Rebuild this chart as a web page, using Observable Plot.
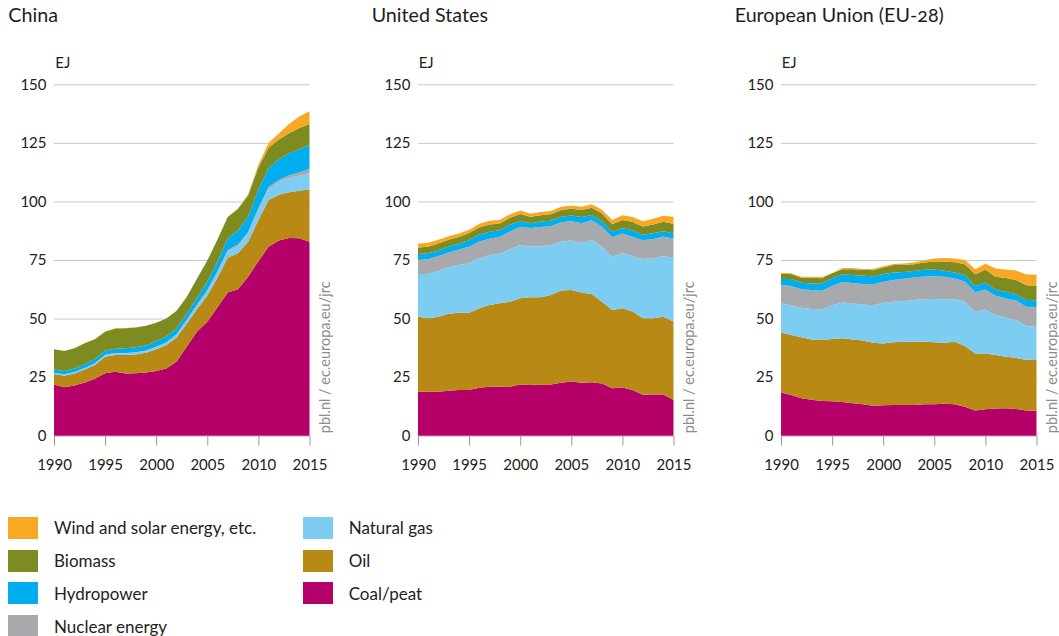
<!DOCTYPE html>
<html><head><meta charset="utf-8">
<script src="https://cdn.jsdelivr.net/npm/d3@7"></script>
<script src="https://cdn.jsdelivr.net/npm/@observablehq/plot@0.6"></script>
<style>
body{margin:0;background:#fff;font-family:Lato,"Open Sans",sans-serif;font-variant-numeric:oldstyle-nums;}
#root{position:relative;width:1059px;height:636px;overflow:hidden;background:#fff;}
.title{position:absolute;top:3px;font-size:19.7px;color:#1e1e1e;white-space:nowrap;}
.unit{position:absolute;top:53px;font-size:15px;color:#1e1e1e;}
.panel{position:absolute;}
.lg{position:absolute;height:22px;display:flex;align-items:center;}
.sw{width:30px;height:22px;margin-right:16px;flex:none;}
.lt{font-size:17px;color:#222;white-space:nowrap;}
</style></head><body><div id="root"></div>
<script>
const years = [1990,1991,1992,1993,1994,1995,1996,1997,1998,1999,2000,2001,2002,2003,2004,2005,2006,2007,2008,2009,2010,2011,2012,2013,2014,2015];
const sources = ["Coal/peat","Oil","Natural gas","Nuclear energy","Hydropower","Biomass","Wind and solar energy, etc."];
const colors = ["#b5006a","#b98915","#7dcdf2","#a8a9ac","#00adee","#7e8b20","#f8a823"];
const xTicks = [1990,1995,2000,2005,2010,2015];
const yTicks = [0,25,50,75,100,125,150];
const sourceNote = "pbl.nl / ec.europa.eu/jrc";

// China (EJ)
const chinaCoal = [21.8,20.7,21.4,22.7,24.3,26.7,27.3,26.5,26.7,27.0,27.6,28.7,31.7,38.1,44.5,48.6,54.8,61.1,62.5,67.9,74.5,80.7,83.3,84.4,84.3,82.8];
const chinaOil = [4.5,4.9,5.2,5.6,5.9,7.0,7.1,7.9,8.0,8.4,9.3,10.0,10.2,9.8,9.6,11.2,12.7,14.9,15.4,14.9,17.6,19.9,19.5,19.5,20.3,22.4];
const chinaGas = [0.6,0.6,0.6,0.6,0.6,0.7,0.7,0.75,0.8,0.8,0.9,1.0,1.1,1.2,1.4,1.8,2.1,2.6,3.0,3.5,4.2,4.8,5.4,6.1,6.4,6.9];
const chinaNuclear = [0,0,0,0,0.1,0.15,0.15,0.15,0.15,0.15,0.17,0.2,0.25,0.45,0.5,0.55,0.6,0.7,0.7,0.8,0.8,0.9,1.0,1.2,1.4,1.8];
const chinaHydro = [1.4,1.4,1.5,1.6,1.8,1.8,1.9,2.0,2.1,2.1,2.3,2.5,2.6,2.6,3.0,3.6,4.2,5.0,6.0,6.5,8.0,8.0,8.8,9.4,9.9,10.2];
const chinaBiomass = [8.6,8.6,8.6,9.0,8.5,8.05,8.65,8.6,8.45,8.45,7.9,7.6,7.5,7.2,8.1,9.0,9.3,9.0,9.2,9.0,9.4,8.6,8.4,8.5,9.0,9.0];
const chinaWind = [0.05,0.05,0.05,0.05,0.05,0.05,0.05,0.05,0.05,0.05,0.05,0.05,0.05,0.05,0.05,0.1,0.1,0.2,0.3,0.5,1.2,2.0,2.6,4.0,5.0,5.4];

// United States (EJ)
const usCoal = [18.8,18.8,18.8,19.2,19.5,19.5,20.5,20.9,20.9,20.9,21.9,21.6,21.8,21.8,22.6,23.1,22.6,22.8,22.3,20.2,20.6,19.5,17.5,17.6,17.6,15.2];
const usOil = [32.0,31.3,32.0,32.8,33.0,33.0,33.9,34.9,35.6,36.3,36.8,37.5,37.3,38.3,39.4,39.1,38.5,37.7,34.9,33.5,33.8,33.5,32.6,32.5,33.2,33.5];
const usGas = [18.2,18.9,19.5,19.9,20.4,21.1,21.3,21.3,21.3,22.4,22.7,21.6,21.9,21.3,20.8,21.1,21.3,23.1,23.6,22.7,23.5,23.7,25.3,25.6,25.9,27.0];
const usNuclear = [6.0,6.3,6.4,6.3,6.6,7.1,7.2,7.0,7.1,7.6,7.8,8.0,8.1,8.0,8.3,8.3,8.3,8.4,8.4,8.3,8.4,8.2,8.0,8.3,8.3,8.4];
const usHydro = [2.6,2.6,2.4,2.6,2.4,2.8,3.0,3.0,2.8,2.8,2.4,2.0,2.3,2.4,2.4,2.4,2.6,2.2,2.3,2.4,2.3,2.8,2.4,2.4,2.3,2.2];
const usBiomass = [2.7,2.8,2.9,2.8,2.9,3.0,3.1,3.1,2.9,3.0,3.0,2.8,2.7,2.7,2.8,2.9,3.0,3.1,3.3,3.2,3.5,3.5,3.5,3.8,4.0,4.2];
const usWind = [1.6,1.7,1.6,1.5,1.5,1.4,1.5,1.5,1.5,1.5,1.5,1.4,1.4,1.4,1.4,1.4,1.4,1.5,1.7,1.8,2.0,2.1,2.2,2.4,2.6,3.0];

// European Union (EU-28) (EJ)
const euCoal = [18.4,17.4,16.0,15.3,14.8,14.7,14.4,13.8,13.4,12.8,13.0,13.1,13.1,13.1,13.4,13.4,13.6,13.4,12.4,10.7,11.3,11.6,11.7,11.4,10.7,10.6];
const euOil = [25.6,25.6,26.0,25.8,26.1,26.6,27.2,27.3,27.2,26.9,26.4,26.8,27.0,27.0,26.7,26.5,26.1,26.7,25.9,24.4,23.8,22.8,22.0,21.9,21.6,22.0];
const euGas = [12.5,12.7,12.6,13.0,13.0,14.4,15.3,15.4,15.4,16.0,17.4,17.3,17.4,17.8,18.1,18.5,18.5,18.1,18.9,17.8,18.8,17.1,16.8,16.1,14.5,13.9];
const euNuclear = [7.9,8.2,7.9,8.1,8.0,8.2,8.7,8.7,8.8,8.9,8.9,9.3,9.5,9.6,9.8,9.7,9.6,8.9,8.6,8.3,8.5,8.2,8.1,8.3,8.2,8.4];
const euHydro = [2.5,3.0,2.8,2.8,3.1,3.3,3.2,3.4,3.5,3.5,3.3,3.2,2.9,2.8,2.8,2.8,2.6,2.6,2.8,2.7,3.0,2.6,2.8,2.7,2.9,2.9];
const euBiomass = [2.1,2.1,2.1,2.4,2.2,2.1,2.2,2.5,2.5,2.5,2.8,3.2,3.0,2.9,3.1,3.5,4.0,4.3,4.6,5.0,5.4,5.6,5.9,6.1,6.3,6.2];
const euWind = [0.4,0.3,0.5,0.5,0.5,0.2,0.6,0.5,0.4,0.6,0.5,0.4,0.6,0.7,1.0,1.2,1.5,1.6,1.8,2.2,2.6,3.5,3.6,4.0,4.6,4.8];

const panels = [
  {title:"China", left:54.3, series:[chinaCoal,chinaOil,chinaGas,chinaNuclear,chinaHydro,chinaBiomass,chinaWind]},
  {title:"United States", left:417.7, series:[usCoal,usOil,usGas,usNuclear,usHydro,usBiomass,usWind]},
  {title:"European Union (EU-28)", left:780.7, series:[euCoal,euOil,euGas,euNuclear,euHydro,euBiomass,euWind]}
];

const root = document.getElementById("root");
const plotW = 255.5, plotTop = 84.3, plotBottom = 435.7;
const svgTop = 70, mTop = plotTop - svgTop, mBottom = 40, mLeft = 50, mRight = 36;

for (const p of panels) {
  const rows = sources.flatMap((s, k) => years.map((y, i) => ({year: y, source: s, value: p.series[k][i]})));
  const chart = Plot.plot({
    width: mLeft + plotW + mRight,
    height: mTop + (plotBottom - plotTop) + mBottom,
    marginLeft: mLeft, marginRight: mRight, marginTop: mTop, marginBottom: mBottom,
    style: {fontFamily: "Lato, 'Open Sans', sans-serif", fontSize: "15px", background: "transparent", overflow: "visible", fontVariantNumeric: "oldstyle-nums"},
    x: {domain: [1990, 2015], label: null},
    y: {domain: [0, 150], label: null},
    color: {domain: sources, range: colors},
    marks: [
      Plot.gridY(yTicks, {stroke: "#c8c8c8", strokeOpacity: 1, strokeWidth: 1}),
      Plot.areaY(rows, Plot.stackY({x: "year", y: "value", fill: "source", z: "source", order: sources})),
      Plot.axisX({ticks: xTicks, tickFormat: d => String(d), tickSize: 10, tickPadding: 13, stroke: "#9a9a9a", fill: "#222", label: null}),
      Plot.axisY({ticks: yTicks, tickSize: 0, tickPadding: 8, fill: "#222", label: null}),
      Plot.text([sourceNote], {frameAnchor: "bottom-right", rotate: -90, textAnchor: "start", lineAnchor: "bottom", dx: 20, dy: -3, fill: "#8c8c8c", fontSize: 14.5})
    ]
  });
  chart.classList.add("panel");
  chart.style.left = (p.left - mLeft) + "px";
  chart.style.top = svgTop + "px";
  root.appendChild(chart);

  const t = document.createElement("div");
  t.className = "title"; t.textContent = p.title; t.style.left = (p.left - 46) + "px";
  root.appendChild(t);
  const u = document.createElement("div");
  u.className = "unit"; u.textContent = "EJ"; u.style.left = (p.left + 1) + "px";
  root.appendChild(u);
}

// legend
const legendCols = [
  ["Wind and solar energy, etc.","Biomass","Hydropower","Nuclear energy"],
  ["Natural gas","Oil","Coal/peat"]
];
const colX = [8, 302.7];
legendCols.forEach((col, c) => col.forEach((name, r) => {
  const d = document.createElement("div");
  d.className = "lg";
  d.style.left = colX[c] + "px";
  d.style.top = (516.7 + r * 32.8) + "px";
  const sw = document.createElement("div");
  sw.className = "sw"; sw.style.background = colors[sources.indexOf(name)];
  const tx = document.createElement("span");
  tx.className = "lt"; tx.textContent = name;
  d.appendChild(sw); d.appendChild(tx);
  root.appendChild(d);
}));
</script></body></html>
